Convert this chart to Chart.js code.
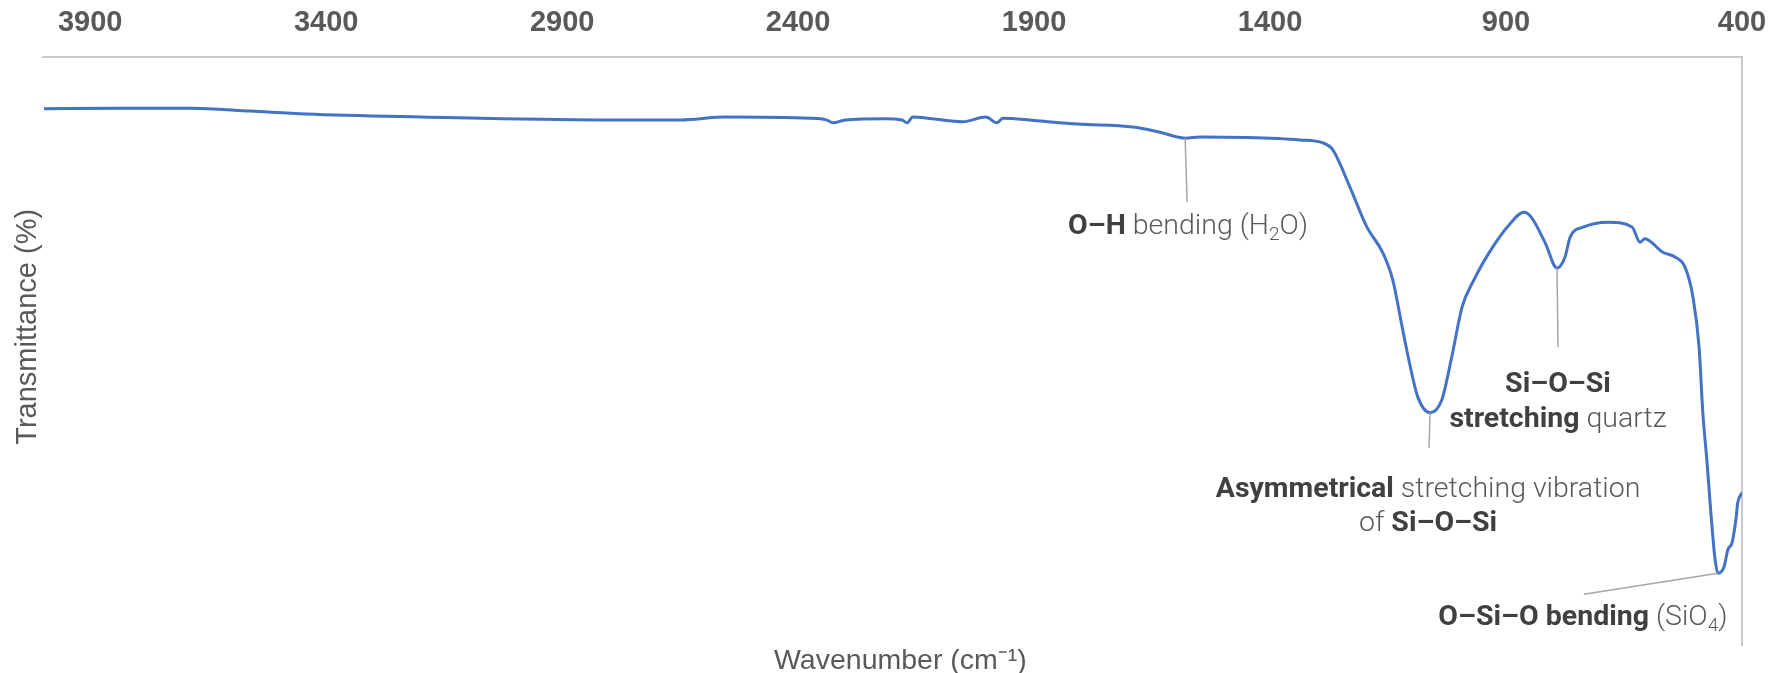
<!DOCTYPE html>
<html>
<head>
<meta charset="utf-8">
<script src="https://cdn.jsdelivr.net/npm/chart.js@4.4.0/dist/chart.umd.min.js"></script>
<style>
  html, body { margin: 0; padding: 0; background: #fff; }
</style>
</head>
<body>
<canvas id="ftirChart" width="1769" height="673"></canvas>
<script>
// spectrum: wavenumber (cm-1) -> transmittance (%)
const wavenumbers = [
  3998, 3840, 3686, 3560, 3443, 3199, 2820, 2650, 2555, 2375,
  2340, 2326, 2300, 2214, 2180, 2169, 2157, 2116, 2051, 2002,
  1979, 1966, 1900, 1807, 1690, 1633, 1580, 1548, 1450, 1337,
  1288, 1267, 1231, 1195, 1161, 1140, 1123, 1106, 1087, 1061,
  1036, 1015, 993, 968, 928, 894, 862, 847, 817, 792,
  775, 764, 735, 684, 633, 616, 606, 568, 542, 521,
  504, 491, 483, 474, 466, 457, 451, 438, 430, 421,
  413, 409, 400
];
const transmittance = [
  91.2, 91.3, 91.3, 90.8, 90.3, 89.8, 89.3, 89.3, 89.8, 89.6,
  89.3, 88.8, 89.3, 89.5, 89.3, 88.8, 89.8, 89.5, 89.0, 89.8,
  88.8, 89.6, 89.2, 88.6, 88.1, 87.2, 86.2, 86.4, 86.3, 85.9,
  85.4, 84.2, 77.9, 71.1, 66.7, 62.1, 55.3, 48.5, 42.2, 39.5,
  41.7, 49.0, 57.5, 62.1, 67.7, 71.4, 73.6, 72.8, 68.4, 64.1,
  66.0, 69.4, 71.1, 71.9, 71.1, 68.5, 69.1, 66.8, 66.0, 64.3,
  59.2, 50.7, 39.5, 31.0, 22.5, 14.5, 12.2, 13.3, 16.2, 17.4,
  21.3, 24.2, 25.9
];
const tickValues = [3900, 3400, 2900, 2400, 1900, 1400, 900, 400];

// band labels: anchored on a wavenumber of the series
// runs: b = bold, l = light, s = subscript
const peakNotes = [
  { wn: 1580, lead: [2, 64], lines: [
    { dx: 3, dy: 89, runs: [['O–H', 'b'], [' bending (H', 'l'], ['2', 's'], ['O)', 'l']] }
  ]},
  { wn: 1061, lead: [-1, 35], lines: [
    { dx: -2, dy: 77, runs: [['Asymmetrical', 'b'], [' stretching vibration', 'l']] },
    { dx: -2, dy: 111, runs: [['of ', 'l'], ['Si–O–Si', 'b']] }
  ]},
  { wn: 792, lead: [1, 79], lines: [
    { dx: 1, dy: 117, runs: [['Si–O–Si', 'b']] },
    { dx: 1, dy: 152, runs: [['stretching', 'b'], [' quartz', 'l']] }
  ]},
  { wn: 451, lead: [-134, 21], lines: [
    { dx: -135, dy: 45, runs: [['O–Si–O bending', 'b'], [' (SiO', 'l'], ['4', 's'], [')', 'l']] }
  ]}
];

const runFonts = {
  b: 'bold 28.5px Roboto',
  l: '300 28.5px Roboto',
  s: '300 19px Roboto'
};
const runColors = { b: '#404040', l: '#595959', s: '#595959' };

const peakLabelPlugin = {
  id: 'peakLabels',
  afterDatasetsDraw(chart) {
    const ctx = chart.ctx;
    const xs = chart.scales.x, ys = chart.scales.y;
    ctx.save();
    peakNotes.forEach(note => {
      const i = wavenumbers.indexOf(note.wn);
      const px = xs.getPixelForValue(wavenumbers[i]);
      const py = ys.getPixelForValue(transmittance[i]);
      ctx.strokeStyle = '#a6a6a6';
      ctx.lineWidth = 1.5;
      ctx.beginPath();
      ctx.moveTo(px, py);
      ctx.lineTo(px + note.lead[0], py + note.lead[1]);
      ctx.stroke();

      note.lines.forEach(line => {
        let total = 0;
        line.runs.forEach(r => { ctx.font = runFonts[r[1]]; total += ctx.measureText(r[0]).width; });
        let x = px + line.dx - total / 2;
        const y = py + line.dy;
        ctx.textAlign = 'left';
        ctx.textBaseline = 'middle';
        line.runs.forEach(r => {
          ctx.font = runFonts[r[1]];
          ctx.fillStyle = runColors[r[1]];
          ctx.fillText(r[0], x, r[1] === 's' ? y + 8 : y);
          x += ctx.measureText(r[0]).width;
        });
      });
    });
    ctx.restore();
  }
};

const points = wavenumbers.map((w, i) => ({ x: w, y: transmittance[i] }));

Chart.defaults.font.family = 'Liberation Sans';

// keep the plot box fixed: no extra room reserved for edge labels
const noEdgePadding = s => { s.paddingLeft = 0; s.paddingRight = 0; };

const ctx = document.getElementById('ftirChart').getContext('2d');
new Chart(ctx, {
  type: 'line',
  data: {
    datasets: [{
      data: points,
      borderColor: '#4472C4',
      borderWidth: 3,
      pointRadius: 0,
      fill: false,
      cubicInterpolationMode: 'monotone',
      xAxisID: 'x',
      yAxisID: 'y'
    }]
  },
  options: {
    responsive: false,
    animation: false,
    events: [],
    layout: { padding: 0 },
    plugins: { legend: { display: false }, tooltip: { enabled: false } },
    scales: {
      x: {
        type: 'linear', position: 'top', reverse: true, min: 400, max: 4000,
        afterBuildTicks: s => { s.ticks = tickValues.map(v => ({ value: v })); },
        afterFit: s => { s.height = 57; noEdgePadding(s); },
        grid: { display: false, drawTicks: false },
        border: { display: true, color: '#c9c9c9', width: 2 },
        ticks: {
          color: '#595959', padding: 17, maxRotation: 0, autoSkip: false,
          callback: v => String(v),
          font: { family: 'Liberation Sans', size: 29, weight: 'bold' }
        }
      },
      xTitle: {
        type: 'linear', position: 'bottom', reverse: true, min: 400, max: 4000,
        afterFit: s => { s.height = 28; noEdgePadding(s); },
        grid: { display: false, drawTicks: false }, border: { display: false }, ticks: { display: false },
        title: {
          display: true, text: '  Wavenumber (cm⁻¹)', color: '#595959', padding: 0,
          font: { family: 'Liberation Sans', size: 28.5, lineHeight: 0.8 }
        }
      },
      y: {
        type: 'linear', position: 'right', min: 0, max: 100,
        afterFit: s => { s.width = 27; },
        grid: { display: false, drawTicks: false }, ticks: { display: false },
        border: { display: true, color: '#c9c9c9', width: 2 }
      },
      yTitle: {
        type: 'linear', position: 'left', min: 0, max: 100,
        afterFit: s => { s.width = 43; },
        grid: { display: false, drawTicks: false }, border: { display: false }, ticks: { display: false },
        title: {
          display: true, text: '      Transmittance (%)', color: '#595959',
          padding: { top: 11, bottom: 0 },
          font: { family: 'Liberation Sans', size: 29 }
        }
      }
    }
  },
  plugins: [peakLabelPlugin]
});
</script>
</body>
</html>
